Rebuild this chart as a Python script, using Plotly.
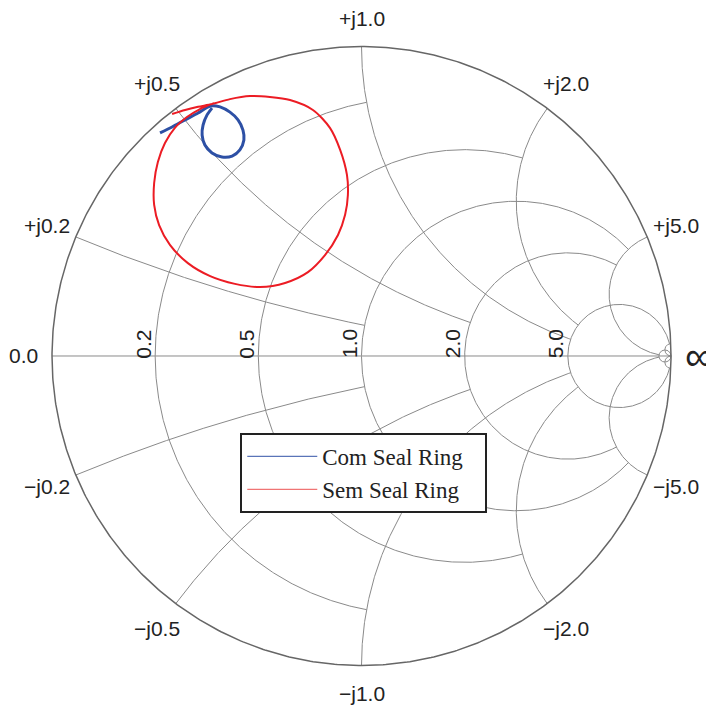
import numpy as np
import plotly.graph_objects as go

com_s11_re = [-0.651, -0.612, -0.570, -0.528, -0.489, -0.457, -0.425, -0.399, -0.383, -0.380,
              -0.393, -0.418, -0.451, -0.483, -0.506, -0.515, -0.512, -0.499, -0.483]
com_s11_im = [0.721, 0.740, 0.763, 0.785, 0.808, 0.805, 0.788, 0.763, 0.730, 0.698,
              0.666, 0.646, 0.643, 0.656, 0.682, 0.714, 0.746, 0.779, 0.801]

sem_s11_re = [-0.612, -0.570, -0.528, -0.483, -0.425, -0.360, -0.296, -0.231, -0.157, -0.102,
              -0.069, -0.047, -0.044, -0.053, -0.076, -0.118, -0.173, -0.247, -0.328, -0.409,
              -0.489, -0.561, -0.619, -0.654, -0.670, -0.670, -0.658, -0.635, -0.603, -0.564,
              -0.522, -0.477]
sem_s11_im = [0.782, 0.795, 0.805, 0.814, 0.830, 0.840, 0.837, 0.827, 0.795, 0.737,
              0.666, 0.585, 0.520, 0.456, 0.391, 0.326, 0.271, 0.236, 0.223, 0.233,
              0.258, 0.300, 0.359, 0.423, 0.488, 0.559, 0.627, 0.688, 0.737, 0.772,
              0.798, 0.817]

grid_vals = [0.2, 0.5, 1.0, 2.0, 5.0]
# how far each grid line runs before it stops (pySmithPlot style "fancy" grid)
grid_limits = [1.0, 2.0, 5.0, 5.0, 50.0]
minor_val = 50.0

FONT = "Liberation Sans"


def gamma(z):
    return (z - 1) / (z + 1)


def r_circle(r, lim=None, n=500):
    c, rho = r / (1 + r), 1 / (1 + r)
    if lim is None:
        t = np.linspace(0, 2 * np.pi, n)
    else:
        a = np.angle(gamma(r + 1j * lim) - c)
        t = np.linspace(a, 2 * np.pi - a, n)
    return c + rho * np.exp(1j * t)


def x_arc(x, lim=None, n=400):
    cen, rad = 1 + 1j / x, 1 / abs(x)
    a = np.angle(gamma(1j * x) - cen)
    b = np.angle((1.0 if lim is None else gamma(lim + 1j * x)) - cen)
    d = (b - a) % (2 * np.pi)
    if abs(cen + rad * np.exp(1j * (a + d / 2))) > 1:
        d -= 2 * np.pi
    return cen + rad * np.exp(1j * (a + d * np.linspace(0, 1, n)))


gx, gy = [], []
def add(curve):
    gx.extend(list(curve.real) + [None])
    gy.extend(list(curve.imag) + [None])

for v, lim in zip(grid_vals, grid_limits):
    add(r_circle(v, lim))
    add(x_arc(v, lim))
    add(x_arc(-v, lim))
add(r_circle(minor_val))
add(x_arc(minor_val))
add(x_arc(-minor_val))
add(gamma(np.array([0.0, 1e9])) + 0j)

fig = go.Figure()
fig.add_trace(go.Scatter(x=gx, y=gy, mode="lines", line=dict(color="#8a8a8a", width=1),
                         hoverinfo="skip", showlegend=False))
outer = np.exp(1j * np.linspace(0, 2 * np.pi, 721))
fig.add_trace(go.Scatter(x=outer.real, y=outer.imag, mode="lines",
                         line=dict(color="#666", width=1.5), hoverinfo="skip", showlegend=False))

series = [("Com Seal Ring", com_s11_re, com_s11_im, "#2d50a5", 3, "#5a74b8"),
          ("Sem Seal Ring", sem_s11_re, sem_s11_im, "#ec1c24", 2, "#f07474")]
for name, re, im, col, w, key in series:
    fig.add_trace(go.Scatter(x=re, y=im, mode="lines", showlegend=False, name=name,
                             line=dict(color=col, width=w, shape="spline", smoothing=0.8)))
# thin lines for the legend keys
for name, re, im, col, w, key in series:
    fig.add_trace(go.Scatter(x=[None], y=[None], mode="lines", name=name + "\u00a0\u00a0\u00a0",
                             line=dict(color=key, width=1.2)))

ann = []
for v in grid_vals:
    rad = 1.092 if v == 1.0 else 1.10
    for s, sign in [(1, "+"), (-1, "\u2212")]:
        g = gamma(1j * s * v) * rad
        ann.append(dict(x=g.real, y=g.imag, text=f"{sign}j{v:.1f}"))
    g = gamma(v)
    ann.append(dict(x=g.real - 0.037, y=0.039, text=f"{v:.1f}", textangle=-90))
ann.append(dict(x=-1.093, y=0, text="0.0"))
ann.append(dict(x=1.039, y=0, text="\u221e", xanchor="left", font=dict(family=FONT, size=40, color="#222")))
for a in ann:
    a.setdefault("xanchor", "center")
    a.setdefault("font", dict(family=FONT, size=21, color="#222"))
    a.update(xref="x", yref="y", yanchor="middle", showarrow=False)

# the page body adds an 8px margin, so the figure covers the window from (8, 8)
fig.update_layout(
    width=706, height=704,
    margin=dict(l=0, r=0, t=0, b=0),
    paper_bgcolor="white", plot_bgcolor="white",
    xaxis=dict(range=[-1.1422, 1.1389], visible=False),
    yaxis=dict(range=[-1.1503, 1.1244], visible=False),
    annotations=ann,
    legend=dict(x=0.329, y=0.3963, xanchor="left", yanchor="top", itemwidth=70,
                bordercolor="#222", borderwidth=2, bgcolor="white",
                font=dict(family="Liberation Serif", size=23, color="#222")),
)
fig.write_html("out.html")
